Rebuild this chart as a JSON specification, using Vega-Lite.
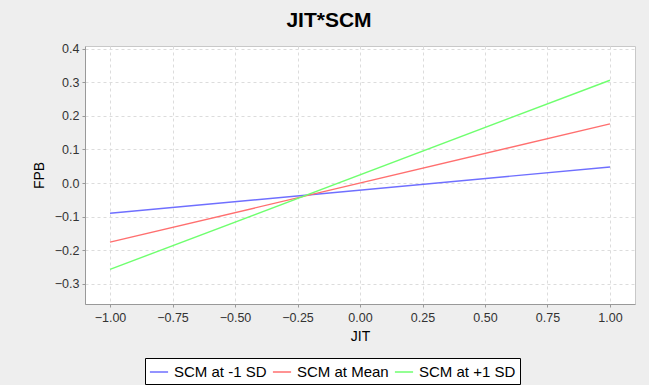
{
  "$schema": "https://vega.github.io/schema/vega-lite/v6.json",
  "width": 550,
  "height": 258,
  "autosize": {"type": "none"},
  "padding": {"left": 85, "top": 46, "right": 14, "bottom": 81},
  "background": "#eeeeee",
  "title": {
    "text": "JIT*SCM",
    "font": "Liberation Sans",
    "fontSize": 21,
    "fontWeight": "bold",
    "color": "#000000",
    "anchor": "middle",
    "dx": -31,
    "offset": 12
  },
  "data": {
    "values": [
      {"JIT": -1, "FPB": -0.090, "series": "SCM at -1 SD"},
      {"JIT": 1, "FPB": 0.048, "series": "SCM at -1 SD"},
      {"JIT": -1, "FPB": -0.176, "series": "SCM at Mean"},
      {"JIT": 1, "FPB": 0.176, "series": "SCM at Mean"},
      {"JIT": -1, "FPB": -0.257, "series": "SCM at +1 SD"},
      {"JIT": 1, "FPB": 0.306, "series": "SCM at +1 SD"}
    ]
  },
  "mark": {"type": "line", "strokeWidth": 1.4},
  "encoding": {
    "x": {
      "field": "JIT",
      "type": "quantitative",
      "scale": {"domain": [-1.1, 1.1], "nice": false, "zero": false},
      "axis": {
        "title": "JIT",
        "values": [-1, -0.75, -0.5, -0.25, 0, 0.25, 0.5, 0.75, 1],
        "format": ".2f",
        "labelPadding": 4,
        "titlePadding": 6
      }
    },
    "y": {
      "field": "FPB",
      "type": "quantitative",
      "scale": {"domain": [-0.36, 0.408], "nice": false, "zero": false},
      "axis": {
        "title": "FPB",
        "values": [-0.3, -0.2, -0.1, 0, 0.1, 0.2, 0.3, 0.4],
        "format": ".1f",
        "labelPadding": 3,
        "titlePadding": 8
      }
    },
    "color": {
      "field": "series",
      "type": "nominal",
      "scale": {
        "domain": ["SCM at -1 SD", "SCM at Mean", "SCM at +1 SD"],
        "range": ["#6f6fff", "#ff6f6f", "#6fff6f"]
      },
      "legend": {
        "orient": "none",
        "legendX": 60,
        "legendY": 312,
        "direction": "horizontal",
        "title": null,
        "fillColor": "#ffffff",
        "strokeColor": "#000000",
        "padding": 4,
        "symbolType": "stroke",
        "symbolSize": 330,
        "symbolStrokeWidth": 1.5,
        "labelFont": "Liberation Sans",
        "labelFontSize": 15,
        "labelColor": "#000000",
        "labelOffset": 5,
        "columnPadding": 2
      }
    }
  },
  "config": {
    "view": {"fill": "#ffffff", "stroke": "#c8c8c8", "strokeWidth": 1},
    "axis": {
      "labelFont": "Liberation Sans",
      "labelFontSize": 12.5,
      "labelColor": "#333333",
      "titleFont": "Liberation Sans",
      "titleFontSize": 14,
      "titleFontWeight": "normal",
      "titleColor": "#000000",
      "domainColor": "#999999",
      "tickColor": "#999999",
      "tickSize": 3,
      "gridColor": "#dcdcdc",
      "gridDash": [3, 3],
      "gridWidth": 1
    }
  }
}
